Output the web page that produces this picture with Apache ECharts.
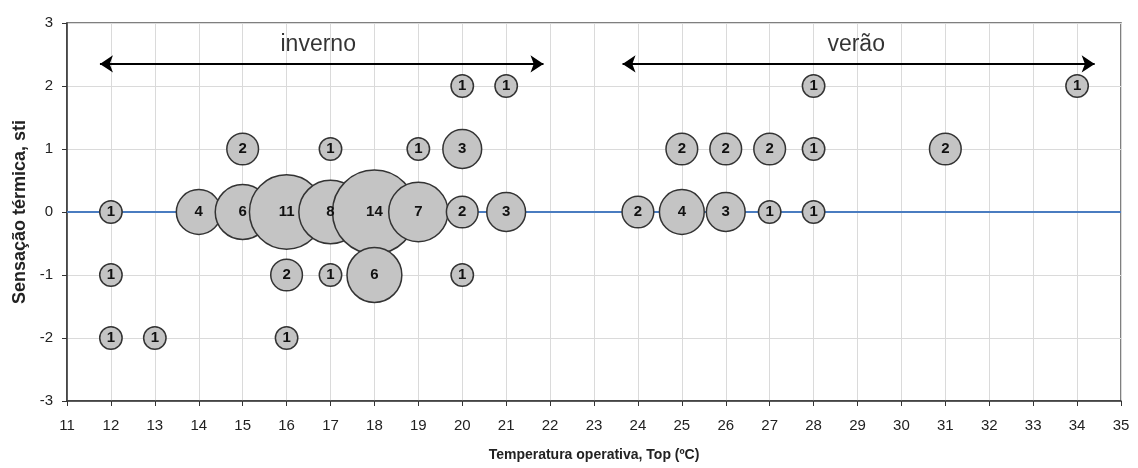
<!DOCTYPE html>
<html><head><meta charset="utf-8">
<script src="https://cdn.jsdelivr.net/npm/echarts@6/dist/echarts.min.js"></script>
<style>html,body{margin:0;padding:0;background:#fff}#c{width:1138px;height:468px}</style>
</head><body><div id="c"></div>
<script>
// Temperatura operativa (ºC)
var tempX = [12,12,12,13,14,15,15,16,16,16,17,17,17,18,18,19,19,20,20,20,20,21,21,
             24,25,25,26,26,27,27,28,28,28,31,34];
// Sensação térmica
var sensY = [0,-1,-2,-2,0,1,0,0,-1,-2,1,0,-1,0,-1,1,0,2,1,0,-1,2,0,
             0,1,0,1,0,1,0,2,1,0,1,2];
// Número de votos
var counts = [1,1,1,1,4,2,6,11,2,1,1,8,1,14,6,1,7,1,3,2,1,1,3,
              2,2,4,2,3,2,1,1,1,1,2,1];
var xTicks = {min:11, max:35, interval:1};
var yTicks = {min:-3, max:3, interval:1};
var seasonNames = ['inverno','verão'];
var seasonLabelX = [16.72, 28.97];
var seasonLabelY = [2.66, 2.66];
var arrowStartX = [11.75, 23.65];
var arrowEndX = [21.85, 34.4];
var arrowY = [2.35, 2.35];

var bubbleData = tempX.map(function(x,i){return [x, sensY[i], counts[i]];});
var chart = echarts.init(document.getElementById('c'));
var font = '"Liberation Sans",Arial,sans-serif';
chart.setOption({
  animation:false,
  backgroundColor:'#fff',
  grid:{left:67,right:17,top:23,bottom:67,show:true,borderColor:'#555',borderWidth:1.5},
  xAxis:{type:'value',min:xTicks.min,max:xTicks.max,interval:xTicks.interval,
    name:'Temperatura operativa, Top (ºC)',nameLocation:'middle',nameGap:47,
    nameTextStyle:{fontFamily:font,fontWeight:'bold',fontSize:14,color:'#222'},
    axisLine:{show:true,onZero:false,lineStyle:{color:'#333',width:1.5}},
    axisTick:{show:true,length:5,lineStyle:{color:'#333'}},
    axisLabel:{fontFamily:font,fontSize:15,color:'#222',margin:17},
    splitLine:{show:true,lineStyle:{color:'#dadada',width:1}}},
  yAxis:{type:'value',min:yTicks.min,max:yTicks.max,interval:yTicks.interval,
    name:'Sensação térmica, sti',nameLocation:'middle',nameGap:38,
    nameTextStyle:{fontFamily:font,fontWeight:'bold',fontSize:18,color:'#222'},
    axisLine:{show:true,onZero:false,lineStyle:{color:'#333',width:1.5}},
    axisTick:{show:true,length:5,lineStyle:{color:'#333'}},
    axisLabel:{fontFamily:font,fontSize:15,color:'#222',margin:14},
    splitLine:{show:true,lineStyle:{color:'#dadada',width:1}}},
  series:[
    {type:'line',data:[[xTicks.min,0],[xTicks.max,0]],symbol:'none',silent:true,
     lineStyle:{color:'#4a7cc0',width:2},z:3},
    {type:'scatter',data:bubbleData,z:4,
     symbolSize:function(v){return 22.4*Math.sqrt(v[2]);},
     itemStyle:{color:'#c4c4c4',borderColor:'#333',borderWidth:1.5,opacity:1},
     label:{show:true,position:'inside',formatter:function(p){return p.value[2];},
       fontFamily:font,fontWeight:'bold',fontSize:15,color:'#111'}},
    {type:'lines',coordinateSystem:'cartesian2d',z:5,silent:true,
     symbol:['arrow','arrow'],symbolSize:[13,13],
     lineStyle:{color:'#000',width:2,opacity:1},
     data:arrowStartX.map(function(s,i){return {coords:[[s,arrowY[i]],[arrowEndX[i],arrowY[i]]]};})},
    {type:'scatter',symbolSize:0,z:6,silent:true,
     data:seasonLabelX.map(function(x,i){return {value:[x,seasonLabelY[i]],name:seasonNames[i]};}),
     label:{show:true,position:'inside',formatter:function(p){return p.name;},
       fontFamily:font,fontSize:23,color:'#000'}}
  ]
});
</script></body></html>
